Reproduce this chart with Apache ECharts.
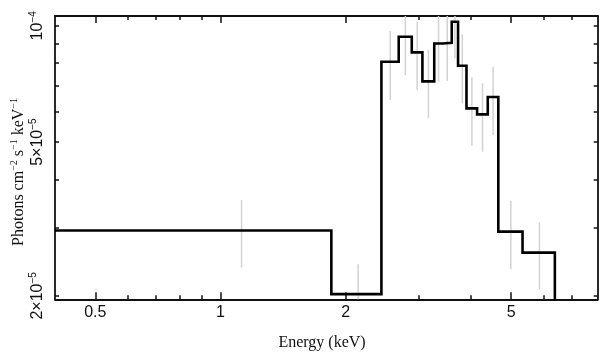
<!DOCTYPE html>
<html>
<head>
<meta charset="utf-8">
<script src="https://cdn.jsdelivr.net/npm/echarts@6/dist/echarts.min.js"></script>
<style>html,body{margin:0;padding:0;background:#fff}#c{width:608px;height:362px}</style>
</head>
<body>
<div id="c"></div>
<script>
// Bin edges (keV) and step values (photons cm^-2 s^-1 keV^-1)
const binEdges = [0.4, 1.847, 2.437, 2.682, 2.883, 3.058, 3.265, 3.421, 3.597, 3.725, 3.903, 4.139, 4.391, 4.655, 5.323, 6.366];
const binValues = [2.951e-5, 2.020e-5, 8.07e-5, 9.366e-5, 8.536e-5, 7.18e-5, 9.0e-5, 9.04e-5, 1.024e-4, 7.877e-5, 6.113e-5, 5.898e-5, 6.54e-5, 2.933e-5, 2.588e-5];
const errLow  = [2.366e-5, 1.5e-5, 6.425e-5, 7.455e-5, 6.818e-5, 5.761e-5, 7.166e-5, 7.2e-5, 8.236e-5, 6.3e-5, 4.894e-5, 4.722e-5, 5.216e-5, 2.344e-5, 2.08e-5];
const errHigh = [3.541e-5, 2.415e-5, 9.69e-5, 1.13e-4, 1.024e-4, 8.654e-5, 1.09e-4, 1.09e-4, 1.22e-4, 9.5e-5, 7.355e-5, 7.1e-5, 7.83e-5, 3.52e-5, 3.1e-5];

// Axis ticks and labels
const xMajorTicks = [0.5, 1, 2, 5];
const xTickLabels = ['0.5', '1', '2', '5'];
const xMinorTicks = [0.6, 0.7, 0.8, 0.9, 3, 4, 6, 7];
const yMajorTicks = [2e-5, 5e-5, 1e-4];
const yTickLabels = ['{n|2×10}{s|−5}', '{n|5×10}{s|−5}', '{n|10}{s|−4}'];
const yMinorTicks = [3e-5, 4e-5, 6e-5, 7e-5, 8e-5, 9e-5];
const yTitle = '{n|Photons cm}{s|−2}{n| s}{s|−1}{n| keV}{s|−1}';
const xTitle = 'Energy (keV)';

const xMin = 0.4, xMax = 8.07, yMin = 1.959e-5, yMax = 1.06e-4;

function labelFor(ticks, labels) {
  return function (v) {
    for (let i = 0; i < ticks.length; i++) {
      if (Math.abs(Math.log10(v) - Math.log10(ticks[i])) < 1e-4) return labels[i];
    }
    return '';
  };
}

// Step path built from bins
const stepData = [];
for (let i = 0; i < binValues.length; i++) {
  stepData.push([binEdges[i], binValues[i]]);
  stepData.push([binEdges[i + 1], binValues[i]]);
}
stepData.push([binEdges[binEdges.length - 1], 1e-5]);

const errData = binValues.map((v, i) => [(binEdges[i] + binEdges[i + 1]) / 2, errLow[i], errHigh[i]]);

const axisColor = '#111';
const lineStyle = { color: axisColor, width: 1.8 };
const tickLine = { color: axisColor, width: 1.5 };
const sans = '"Liberation Sans", Arial, sans-serif';
const serif = '"Liberation Serif", "Times New Roman", serif';

function xAx(pos, ticks, len, showLine, showLabel) {
  return {
    type: 'log', logBase: 10, min: xMin, max: xMax, position: pos,
    axisLine: { show: showLine, onZero: false, lineStyle: lineStyle },
    axisTick: { show: true, inside: true, length: len, customValues: ticks, lineStyle: tickLine },
    axisLabel: showLabel ? { show: true, customValues: xMajorTicks, formatter: labelFor(xMajorTicks, xTickLabels), fontSize: 16, fontFamily: sans, color: axisColor, margin: 5 } : { show: false },
    splitLine: { show: false }, minorTick: { show: false }, minorSplitLine: { show: false }
  };
}
function yAx(pos, ticks, len, showLine, showLabel) {
  return {
    type: 'log', logBase: 10, min: yMin, max: yMax, position: pos,
    axisLine: { show: showLine, onZero: false, lineStyle: lineStyle },
    axisTick: { show: true, inside: true, length: len, customValues: ticks, lineStyle: tickLine },
    axisLabel: showLabel ? {
      show: true, customValues: yMajorTicks, formatter: labelFor(yMajorTicks, yTickLabels), rotate: 90, color: axisColor, margin: 9,
      rich: {
        n: { fontSize: 16, fontFamily: sans, color: axisColor, lineHeight: 18, verticalAlign: 'bottom' },
        s: { fontSize: 10, fontFamily: sans, color: axisColor, lineHeight: 18, verticalAlign: 'top' }
      }
    } : { show: false },
    splitLine: { show: false }, minorTick: { show: false }, minorSplitLine: { show: false }
  };
}

const chart = echarts.init(document.getElementById('c'), null, { renderer: 'canvas' });
chart.setOption({
  animation: false,
  backgroundColor: '#fff',
  grid: { left: 55, right: 10.3, top: 16, bottom: 62.7, containLabel: false },
  xAxis: [
    xAx('bottom', xMajorTicks, 7, true, true),
    xAx('bottom', xMinorTicks, 4, false, false),
    xAx('top', xMajorTicks, 7, true, false),
    xAx('top', xMinorTicks, 4, false, false)
  ],
  yAxis: [
    yAx('left', yMajorTicks, 4, true, true),
    yAx('left', yMinorTicks, 4, false, false),
    yAx('right', yMajorTicks, 4, true, false),
    yAx('right', yMinorTicks, 4, false, false)
  ],
  series: [
    {
      type: 'custom', xAxisIndex: 0, yAxisIndex: 0, z: 1,
      data: errData,
      encode: { x: 0, y: [1, 2] },
      renderItem: function (params, api) {
        const x = api.value(0), lo = api.value(1), hi = api.value(2);
        const p1 = api.coord([x, lo]);
        const p2 = api.coord([x, hi]);
        const cs = params.coordSys;
        const clampY = y => Math.max(cs.y, Math.min(cs.y + cs.height, y));
        return {
          type: 'line',
          shape: { x1: p1[0], y1: clampY(p1[1]), x2: p2[0], y2: clampY(p2[1]) },
          style: { stroke: '#d2d2d2', lineWidth: 1.5 }
        };
      }
    },
    {
      type: 'line', xAxisIndex: 0, yAxisIndex: 0, z: 3,
      data: stepData, symbol: 'none', clip: true,
      lineStyle: { color: '#000', width: 2.6, join: 'miter' }
    }
  ],
  graphic: [
    {
      type: 'text', x: 18, y: 172, rotation: Math.PI / 2,
      style: {
        text: yTitle, fill: '#111', align: 'center', verticalAlign: 'middle',
        rich: {
          n: { fontSize: 16, fontFamily: serif, fill: '#111', lineHeight: 18, verticalAlign: 'bottom' },
          s: { fontSize: 10, fontFamily: serif, fill: '#111', lineHeight: 18, verticalAlign: 'top' }
        }
      }
    },
    {
      type: 'text', x: 322, y: 343,
      style: { text: xTitle, font: '16px ' + serif, fill: '#111', align: 'center', verticalAlign: 'middle' }
    }
  ]
});
</script>
</body>
</html>
